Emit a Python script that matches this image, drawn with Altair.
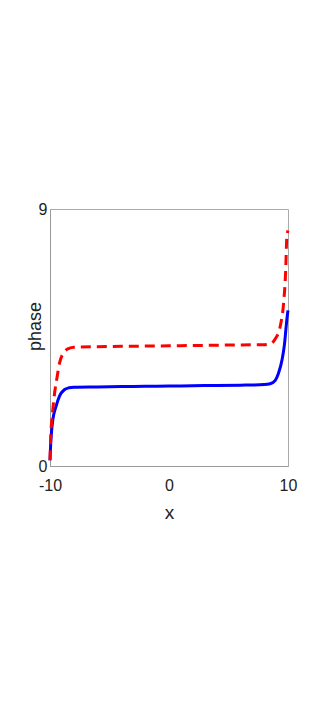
import altair as alt
import pandas as pd

blue_x = [-10, -9.95, -9.86, -9.75, -9.5, -9.2, -8.8, -8.4, -8, -6, -4, -2, 0, 2, 4, 6, 8, 8.5, 8.93, 9.2, 9.5, 9.7, 9.85, 9.95, 10]
blue_y = [0.2, 0.7, 1.26, 1.65, 2.08, 2.45, 2.67, 2.74, 2.76, 2.77, 2.78, 2.79, 2.80, 2.81, 2.82, 2.83, 2.85, 2.88, 3.0, 3.25, 3.72, 4.25, 4.9, 5.3, 5.45]

red_x = [-10, -9.95, -9.8, -9.6, -9.45, -9.2, -8.8, -8.4, -8, -6, -4, -2, 0, 2, 4, 6, 8, 8.5, 8.78, 9.0, 9.2, 9.4, 9.63, 9.8, 9.9, 10]
red_y = [0.2, 0.9, 1.8, 2.6, 3.0, 3.6, 4.0, 4.12, 4.16, 4.18, 4.19, 4.2, 4.21, 4.22, 4.23, 4.24, 4.25, 4.28, 4.36, 4.5, 4.66, 5.0, 5.7, 6.8, 8.0, 8.25]

x_ticks = [-10, 0, 10]
y_ticks = [0, 9]

df_b = pd.DataFrame({"x": blue_x, "y": blue_y})
df_r = pd.DataFrame({"x": red_x, "y": red_y})

FONT = "Liberation Sans"

xs = alt.Scale(domain=[-10, 10], nice=False, zero=False)
ys = alt.Scale(domain=[0, 9], nice=False, zero=False)

xax = alt.Axis(values=x_ticks, title="x", grid=False, ticks=False, domainColor="#999999",
               labelFontSize=16, titleFontSize=19, labelColor="#222222", titleColor="#222222",
               labelPadding=11, titlePadding=10, labelFont=FONT, titleFont=FONT,
               titleFontWeight="normal", labelFlush=False, labelExpr="toString(datum.value)")
yax = alt.Axis(values=y_ticks, title="phase", grid=False, ticks=False, domainColor="#999999",
               labelFontSize=16, titleFontSize=18, labelColor="#222222", titleColor="#222222",
               labelPadding=3, titleX=-6, titleY=117, titleBaseline="bottom", titleAngle=270,
               labelFont=FONT, titleFont=FONT,
               titleFontWeight="normal", labelFlush=False)

blue = alt.Chart(df_b).mark_line(color="#0000FF", strokeWidth=3, interpolate="monotone").encode(
    x=alt.X("x:Q", scale=xs, axis=xax), y=alt.Y("y:Q", scale=ys, axis=yax))
red = alt.Chart(df_r).mark_line(color="#FF0000", strokeWidth=3, strokeDash=[10, 6], interpolate="monotone").encode(
    x=alt.X("x:Q", scale=xs), y=alt.Y("y:Q", scale=ys))

chart = alt.layer(blue, red).properties(
    width=238, height=257,
    autosize=alt.AutoSizeParams(type="none"),
    padding={"left": 42, "top": 201, "right": 10, "bottom": 200},
).configure_view(stroke="#aaaaaa", strokeWidth=1)

chart.save("out.html", embed_options={"renderer": "svg", "actions": False})
